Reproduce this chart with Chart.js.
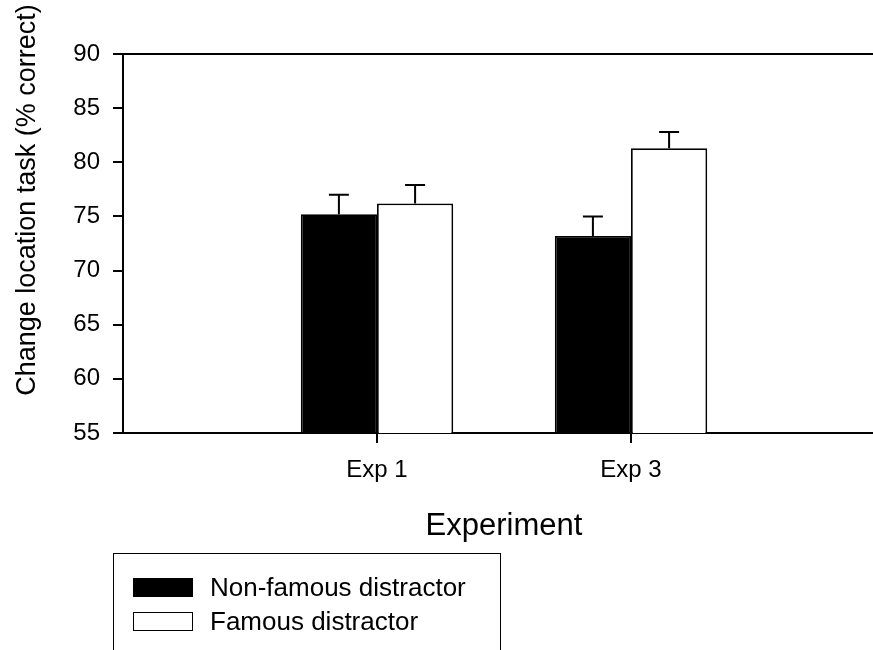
<!DOCTYPE html>
<html>
<head>
<meta charset="utf-8">
<script src="https://cdn.jsdelivr.net/npm/chart.js@4.4.1/dist/chart.umd.min.js"></script>
<style>
  html, body { margin: 0; padding: 0; background: #fff; overflow: hidden; }
  #wrap { position: relative; width: 873px; height: 650px; overflow: hidden; }
  #chart { position: absolute; left: 0; top: 0; }
  .legend {
    position: absolute; left: 113px; top: 553px; width: 386px; height: 140px;
    border: 1.5px solid #000; font: 26px "Liberation Sans", Arial, sans-serif; color: #000;
  }
  .legend .row { position: absolute; left: 19px; height: 30px; display: flex; align-items: center; }
  .legend .swatch { width: 60px; height: 19px; box-sizing: border-box; border: 1.5px solid #000; margin-right: 17px; }
</style>
</head>
<body>
<div id="wrap">
  <canvas id="chart" width="900" height="650"></canvas>
  <div class="legend" id="legend"></div>
</div>
<script>
// Change location task, % correct, by experiment
const experiments = ['Exp 1', 'Exp 3'];
const seriesNames = ['Non-famous distractor', 'Famous distractor'];
const seriesColors = ['#000000', '#ffffff'];
const nonFamous = [75.2, 73.2];
const famous = [76.2, 81.3];
const nonFamousErr = [1.8, 1.8];
const famousErr = [1.7, 1.5];
const yMin = 55, yMax = 90, yStep = 5;

const FONT = '"Liberation Sans", Arial, sans-serif';

// empty slots on both sides keep the groups at 1/3 and 2/3 of the axis
const labels = ['', ...experiments, ''];
const pad = arr => [null, ...arr, null];

// upper error bars only
const errorBars = {
  id: 'errorBars',
  afterDatasetsDraw(chart) {
    const { ctx, scales: { y } } = chart;
    ctx.save();
    ctx.strokeStyle = '#000';
    ctx.lineWidth = 2;
    chart.data.datasets.forEach((ds, i) => {
      chart.getDatasetMeta(i).data.forEach((bar, j) => {
        const v = ds.data[j];
        if (v == null) return;
        const top = y.getPixelForValue(v + ds.errors[j]);
        ctx.beginPath();
        ctx.moveTo(bar.x, bar.y);
        ctx.lineTo(bar.x, top);
        ctx.moveTo(bar.x - 10, top);
        ctx.lineTo(bar.x + 10, top);
        ctx.stroke();
      });
    });
    ctx.restore();
  }
};

// y axis title sits a little above the axis middle
const yTitle = {
  id: 'yTitle',
  afterDraw(chart) {
    const ctx = chart.ctx;
    ctx.save();
    ctx.translate(28, 200);
    ctx.rotate(-Math.PI / 2);
    ctx.font = '27px ' + FONT;
    ctx.fillStyle = '#000';
    ctx.textAlign = 'center';
    ctx.textBaseline = 'middle';
    ctx.fillText('Change location task (% correct)', 0, 0);
    ctx.restore();
  }
};

const chart = new Chart(document.getElementById('chart'), {
  type: 'bar',
  data: {
    labels: labels,
    datasets: [
      { label: seriesNames[0], data: pad(nonFamous), errors: pad(nonFamousErr),
        backgroundColor: seriesColors[0], borderColor: '#000', borderWidth: 1.8 },
      { label: seriesNames[1], data: pad(famous), errors: pad(famousErr),
        backgroundColor: seriesColors[1], borderColor: '#000', borderWidth: 1.8 }
    ]
  },
  options: {
    responsive: false,
    animation: false,
    layout: { padding: { top: 54, right: 15, bottom: 0, left: 0 } },
    datasets: { bar: { barPercentage: 1, categoryPercentage: 0.6 } },
    plugins: { legend: { display: false }, tooltip: { enabled: false } },
    scales: {
      x: {
        offset: false,
        afterFit: s => { s.height = 217; },
        border: { color: '#000', width: 2 },
        grid: {
          offset: false,
          drawOnChartArea: false,
          tickLength: 10,
          lineWidth: 2,
          tickColor: c => (labels[c.index] ? '#000' : 'transparent')
        },
        ticks: { color: '#000', padding: 13, font: { family: FONT, size: 24 }, maxRotation: 0, autoSkip: false },
        title: { display: true, text: 'Experiment', color: '#000',
                 font: { family: FONT, size: 31 }, padding: { top: 0, bottom: 105 } }
      },
      y: {
        min: yMin, max: yMax,
        afterFit: s => { s.width = 123; },
        border: { color: '#000', width: 2 },
        grid: {
          lineWidth: 2,
          tickLength: 10,
          tickColor: '#000',
          color: c => (c.tick && c.tick.value === yMax ? '#000' : 'transparent')
        },
        ticks: { stepSize: yStep, color: '#000', padding: 13, font: { family: FONT, size: 24 } }
      }
    }
  },
  plugins: [errorBars, yTitle]
});

// legend box below the plot
const legendEl = document.getElementById('legend');
seriesNames.forEach((name, i) => {
  const row = document.createElement('div');
  row.className = 'row';
  row.style.top = (18 + i * 34) + 'px';
  const sw = document.createElement('span');
  sw.className = 'swatch';
  sw.style.background = seriesColors[i];
  const txt = document.createElement('span');
  txt.textContent = name;
  row.appendChild(sw);
  row.appendChild(txt);
  legendEl.appendChild(row);
});
</script>
</body>
</html>
